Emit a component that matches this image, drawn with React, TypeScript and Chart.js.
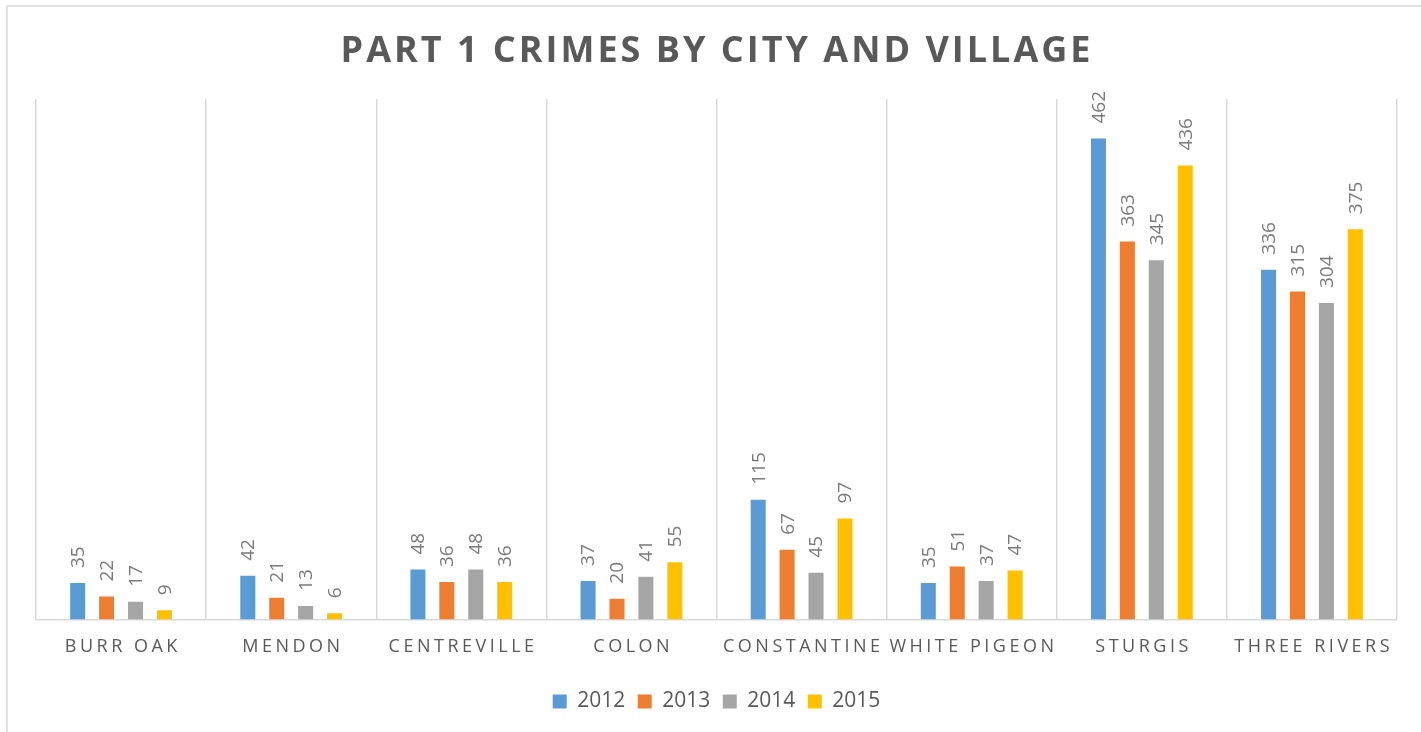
import React, { useEffect, useRef } from "react";
import { Chart, registerables } from "chart.js";

Chart.register(...registerables);

const TITLE = "PART 1 CRIMES BY CITY AND VILLAGE";
const categories = [
  "BURR OAK",
  "MENDON",
  "CENTREVILLE",
  "COLON",
  "CONSTANTINE",
  "WHITE PIGEON",
  "STURGIS",
  "THREE RIVERS",
];
const years = ["2012", "2013", "2014", "2015"];
const values2012 = [35, 42, 48, 37, 115, 35, 462, 336];
const values2013 = [22, 21, 36, 20, 67, 51, 363, 315];
const values2014 = [17, 13, 48, 41, 45, 37, 345, 304];
const values2015 = [9, 6, 36, 55, 97, 47, 436, 375];
const seriesValues = [values2012, values2013, values2014, values2015];
const seriesColors = ["#5B9BD5", "#ED7D31", "#A5A5A5", "#FFC000"];
const yMax = 500;

const FONT = '"Open Sans", "Noto Sans", sans-serif';

const decorPlugin = {
  id: "decor",
  beforeDraw(chart: any) {
    const ctx = chart.ctx;
    ctx.save();
    ctx.fillStyle = "#ffffff";
    ctx.fillRect(0, 0, chart.width, chart.height);
    ctx.strokeStyle = "#d9d9d9";
    ctx.lineWidth = 1.5;
    ctx.strokeRect(7, 6, 1500, 900);
    ctx.restore();
  },
  afterDraw(chart: any) {
    const ctx = chart.ctx;
    // title
    ctx.save();
    ctx.font = `bold 36px ${FONT}`;
    (ctx as any).letterSpacing = "3px";
    ctx.fillStyle = "#595959";
    ctx.textAlign = "center";
    ctx.textBaseline = "middle";
    ctx.fillText(TITLE, 715.5 + 1.5, 52);
    ctx.restore();

    // category labels
    const xScale = chart.scales.x;
    ctx.save();
    ctx.font = `18px ${FONT}`;
    (ctx as any).letterSpacing = "3.5px";
    ctx.fillStyle = "#595959";
    ctx.textAlign = "center";
    ctx.textBaseline = "middle";
    categories.forEach((c, i) => {
      const x = xScale.getPixelForTick(i);
      ctx.fillText(c, x + 1.75, xScale.top + 27);
    });
    ctx.restore();
  },
  afterDatasetsDraw(chart: any) {
    const ctx = chart.ctx;
    ctx.save();
    ctx.font = `19px ${FONT}`;
    ctx.fillStyle = "#7a7a7a";
    ctx.textAlign = "left";
    ctx.textBaseline = "middle";
    chart.data.datasets.forEach((ds: any, di: number) => {
      const meta = chart.getDatasetMeta(di);
      meta.data.forEach((bar: any, i: number) => {
        ctx.save();
        ctx.translate(bar.x, bar.y - 15);
        ctx.rotate(-Math.PI / 2);
        ctx.fillText(String(ds.data[i]), 0, 1);
        ctx.restore();
      });
    });
    ctx.restore();
  },
};

export default function App() {
  const ref = useRef<HTMLCanvasElement | null>(null);
  useEffect(() => {
    document.body.style.margin = "0";
    const canvas = ref.current!;
    const chart = new Chart(canvas, {
      type: "bar",
      data: {
        labels: categories,
        datasets: years.map((y, i) => ({
          label: y,
          data: seriesValues[i],
          backgroundColor: seriesColors[i],
          borderWidth: 0,
          categoryPercentage: 0.68,
          barPercentage: 0.52,
        })),
      },
      options: {
        responsive: false,
        animation: false,
        devicePixelRatio: 1,
        layout: { padding: { top: 99, left: 36, right: 24, bottom: 10 } },
        scales: {
          x: {
            grid: {
              display: true,
              offset: true,
              color: "#d9d9d9",
              lineWidth: 1.5,
              drawTicks: false,
            },
            border: { display: true, color: "#d9d9d9", width: 1.5 },
            ticks: { display: false },
            afterFit: (scale: any) => {
              scale.height = 59;
            },
          },
          y: {
            display: false,
            min: 0,
            max: yMax,
          },
        },
        plugins: {
          title: { display: false },
          tooltip: { enabled: false },
          legend: {
            display: true,
            position: "bottom",
            labels: {
              boxWidth: 14,
              boxHeight: 14,
              padding: 12.5,
              color: "#595959",
              font: { size: 21, family: FONT },
            },
          },
        },
      },
      plugins: [decorPlugin],
    });
    return () => chart.destroy();
  }, []);
  return (
    <div style={{ position: "fixed", left: 0, top: 0, width: 1421, height: 732 }}>
      <canvas ref={ref} width={1421} height={732} style={{ display: "block" }} />
    </div>
  );
}
